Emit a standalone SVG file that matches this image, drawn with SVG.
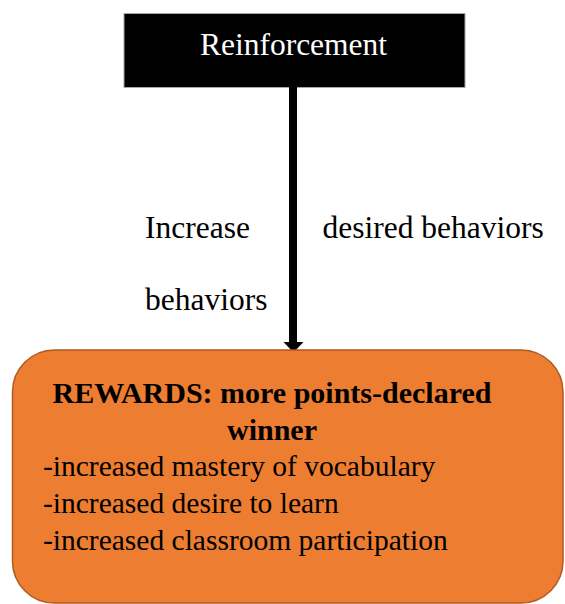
<svg xmlns="http://www.w3.org/2000/svg" width="565" height="604" viewBox="0 0 565 604">
  <style>
    .serif { font-family: "Liberation Serif", "Times New Roman", serif; }
    .label { font-size: 31.5px; fill: #000; }
    .body { font-size: 29.5px; fill: #000; }
    .title { font-size: 30px; font-weight: bold; fill: #000; }
  </style>
  <rect width="565" height="604" fill="#fff"/>

  <!-- source node -->
  <g id="reinforcement">
    <rect x="124" y="13.5" width="341" height="74" fill="#000" stroke="#a6a6a6" stroke-width="1"/>
    <text class="serif" x="293.5" y="55" font-size="31.5" fill="#fff" text-anchor="middle">Reinforcement</text>
  </g>

  <!-- connector with its labels -->
  <g id="connectors">
    <rect x="289" y="87" width="8" height="256" fill="#000"/>
    <polygon points="283.5,342 303.5,342 293.5,352.5" fill="#000"/>
    <text class="serif label" x="145" y="238">Increase</text>
    <text class="serif label" x="322.5" y="238">desired behaviors</text>
    <text class="serif label" x="145" y="310">behaviors</text>
  </g>

  <!-- target node -->
  <g id="rewards">
    <rect x="12.5" y="350" width="550.5" height="253" rx="42" ry="42" fill="#ed7d31" stroke="#ae5a21" stroke-width="1.5"/>
    <text class="serif title" x="272" y="403" text-anchor="middle">REWARDS: more points-declared</text>
    <text class="serif title" x="272" y="440" text-anchor="middle">winner</text>
    <text class="serif body" x="43" y="476">-increased mastery of vocabulary</text>
    <text class="serif body" x="43" y="513">-increased desire to learn</text>
    <text class="serif body" x="43" y="550">-increased classroom participation</text>
  </g>
</svg>
